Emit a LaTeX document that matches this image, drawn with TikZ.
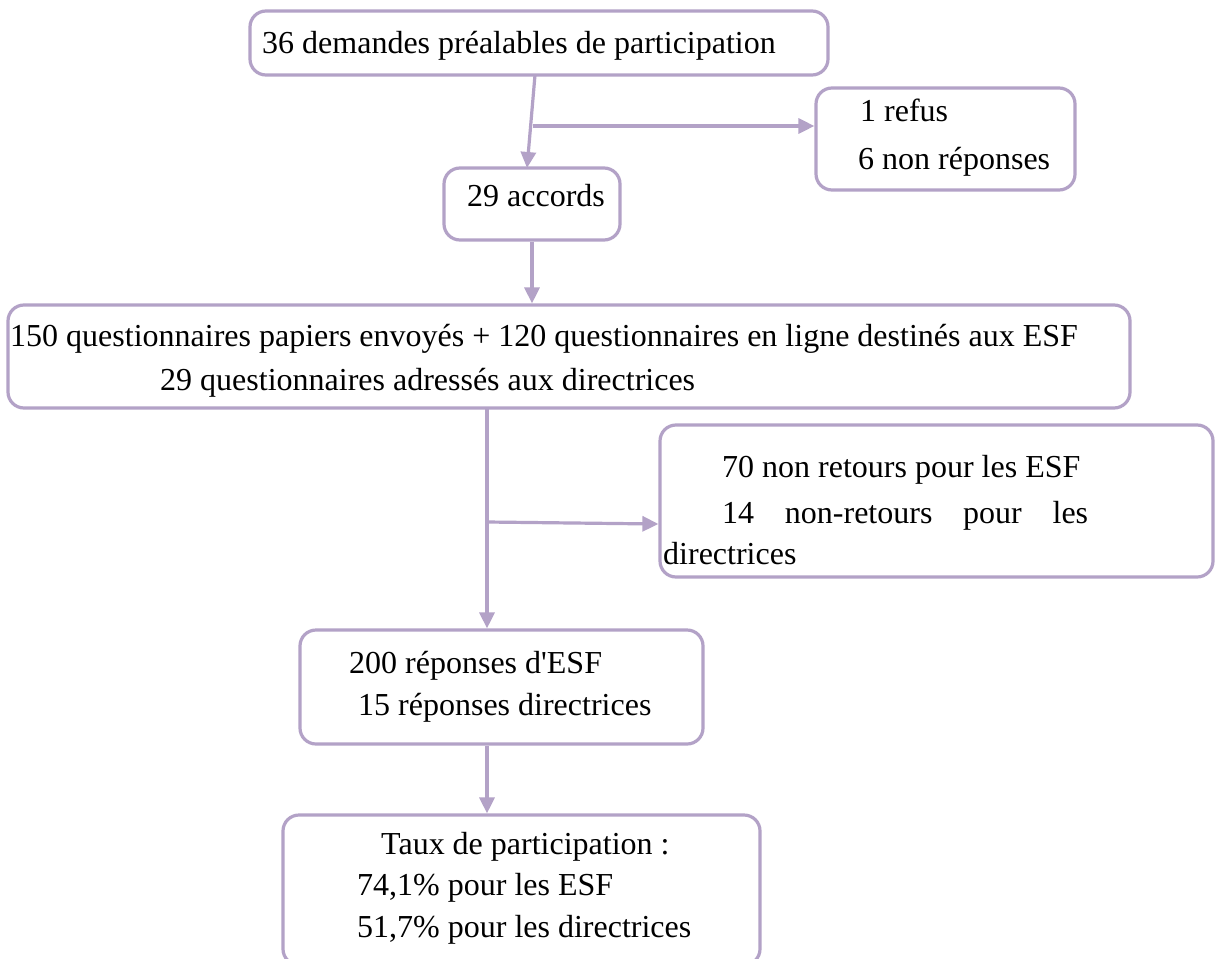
\documentclass[tikz,border=0pt]{standalone}
\usepackage{fontspec}
\setmainfont{Liberation Serif}
\newfontfamily\nomapfont{Liberation Serif}
\usetikzlibrary{arrows.meta}
\definecolor{lav}{HTML}{B3A2C7}
\begin{document}
\begin{tikzpicture}[x=1pt,y=-1pt,
  box/.style={draw=lav,line width=3.2pt,rounded corners=16pt,inner sep=0pt},
  txt/.style={anchor=base west,inner sep=0pt,font=\fontsize{32}{38}\selectfont},
  conn/.style={draw=lav,line width=3.2pt},
  arr/.style={conn,-{Triangle[length=16pt,width=15pt]}}]
\useasboundingbox (0,0) rectangle (1222,958);
\fill[white] (0,0) rectangle (1222,958);
% boxes
\node[box,minimum width=578pt,minimum height=64pt] (b1) at (539,43) {};
\node[box,minimum width=259pt,minimum height=102pt] (b2) at (945.5,139) {};
\node[box,minimum width=176pt,minimum height=72pt] (b3) at (532,204) {};
\node[box,minimum width=1122pt,minimum height=103pt] (b4) at (569,356.5) {};
\node[box,minimum width=553pt,minimum height=152pt] (b5) at (936.5,501) {};
\node[box,minimum width=403pt,minimum height=114pt] (b6) at (501.5,687) {};
\node[box,minimum width=477pt,minimum height=150pt] (b7) at (521.5,890) {};
% texts
\node[txt] (t1) at (262,53) {36 demandes préalables de participation};
\node[txt] (t2a) at (860,121) {1 refus};
\node[txt] (t2b) at (858,169) {6 non réponses};
\node[txt] (t3) at (467,206) {29 accords};
\node[txt] (t4a) at (10,346) {150 questionnaires papiers envoyés + 120 questionnaires en ligne destinés aux ESF};
\node[txt] (t4b) at (160,390) {29 questionnaires adressés aux directrices};
\node[txt] (t5a) at (722,477) {70 non retours pour les ESF};
\node[txt] (t5b) at (722,523) {\hbox to 366pt{14\hfil non-retours\hfil pour\hfil les}};
\node[txt] (t5c) at (663,564) {directrices};
\node[txt] (t6a) at (349,673) {200 réponses {\nomapfont d'ESF}};
\node[txt] (t6b) at (358,715) {15 réponses directrices};
\node[txt] (t7a) at (381,854) {Taux de participation :};
\node[txt] (t7b) at (357,895) {74,1\% pour les ESF};
\node[txt] (t7c) at (357,937) {51,7\% pour les directrices};
% connectors
\coordinate (s1) at (535,75);
\coordinate (j1) at (533,126);
\coordinate (e1) at (527,168);
\draw[arr] (s1) -- (e1);
\draw[arr] (j1) -- (b2.west|-j1);
\draw[arr] (b3.south) -- (b3.south|-b4.north);
\coordinate (s2) at (487,408);
\coordinate (j2) at (487,522);
\draw[arr] (s2) -- (s2|-b6.north);
\draw[arr] (j2) -- (b5.west|-0,524);
\draw[arr] (s2|-b6.south) -- (s2|-b7.north);
\end{tikzpicture}
\end{document}
